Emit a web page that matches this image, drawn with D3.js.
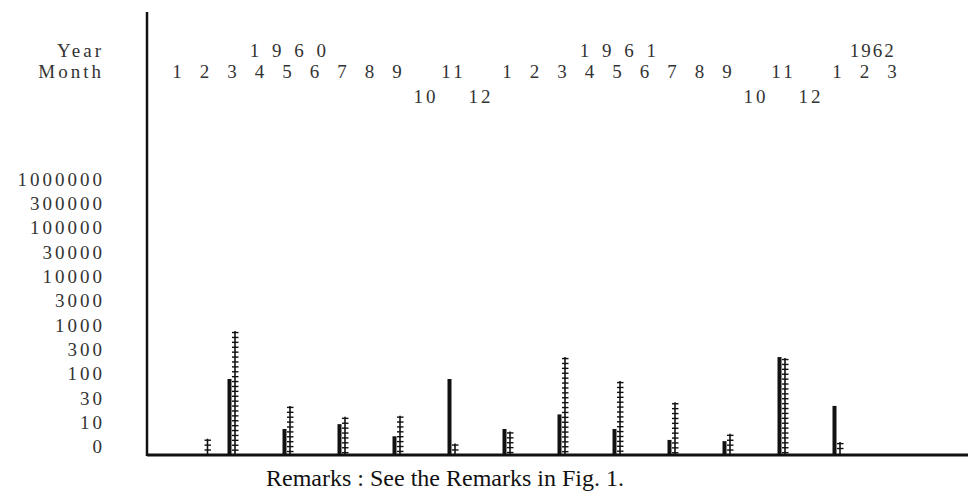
<!DOCTYPE html>
<html>
<head>
<meta charset="utf-8">
<script src="https://cdn.jsdelivr.net/npm/d3@7"></script>
<style>
  body { margin: 0; background: #fff; }
  svg { display: block; }
  .tw { font-family: "Liberation Serif", "DejaVu Serif", serif; font-size: 19px; fill: #333; letter-spacing: 3px; }
</style>
</head>
<body>
<svg id="chart" width="968" height="498"></svg>
<script>
// typed tick labels
const yTicks = [0, 10, 30, 100, 300, 1000, 3000, 10000, 30000, 100000, 300000, 1000000];
const monthLabels = ["1","2","3","4","5","6","7","8","9","10","11","12",
                     "1","2","3","4","5","6","7","8","9","10","11","12",
                     "1","2","3"];
const yearLabels = ["1 9 6 0", "1 9 6 1", "1962"];
const yearMonth = [4.1, 16.1, 25.3];

// bars: month (0 = Jan 1960), solid column and "+" column
const barMonths = [1, 2, 4, 6, 8, 10, 12, 14, 16, 18, 20, 22, 24];
const solidValues = [0, 83, 7, 9, 4, 83, 7, 16, 7, 2.5, 2, 232, 23];
const crossValues = [3, 811, 23, 14, 15, 1, 6, 232, 77, 26, 5, 224, 1.6];

const svg = d3.select("#chart");
const axisX = 147;
const baseY = 455;

const x = d3.scaleLinear().domain([0, 26]).range([177, 892]);
const y = d3.scaleLinear()
  .domain(yTicks)
  .range(yTicks.map((d, i) => 446 - i * 24.3));

// axes lines
svg.append("line")
  .attr("x1", axisX).attr("x2", axisX)
  .attr("y1", 12).attr("y2", baseY + 1)
  .attr("stroke", "#111").attr("stroke-width", 2.5);
svg.append("line")
  .attr("x1", axisX).attr("x2", 968)
  .attr("y1", baseY).attr("y2", baseY)
  .attr("stroke", "#111").attr("stroke-width", 3);

// y labels
const yAxis = d3.axisLeft(y).tickValues(yTicks).tickSize(0).tickPadding(0)
  .tickFormat(d => String(d));
const gy = svg.append("g").attr("transform", "translate(105,0)").call(yAxis);
gy.select(".domain").remove();
gy.attr("font-family", null).attr("font-size", null);
gy.selectAll("text").attr("class", "tw").attr("fill", null).attr("dy", "0.35em");

// header labels
svg.append("text").attr("class", "tw").attr("x", 104).attr("y", 50)
  .attr("text-anchor", "end").attr("dy", "0.35em").text("Year");
svg.append("text").attr("class", "tw").attr("x", 104).attr("y", 71)
  .attr("text-anchor", "end").attr("dy", "0.35em").text("Month");

svg.selectAll(".year").data(yearLabels).enter().append("text")
  .attr("class", "tw year")
  .attr("x", (d, i) => x(yearMonth[i]))
  .attr("y", 50).attr("dy", "0.35em")
  .attr("text-anchor", "middle")
  .style("letter-spacing", (d, i) => i < 2 ? "4px" : "2px")
  .text(d => d);

svg.selectAll(".month").data(monthLabels).enter().append("text")
  .attr("class", "tw month")
  .attr("x", (d, i) => x(i) + 1.5)
  .attr("y", d => (d === "10" || d === "12") ? 96 : 71)
  .attr("dy", "0.35em")
  .attr("text-anchor", "middle")
  .text(d => d);

// solid columns
svg.selectAll(".solid").data(barMonths).enter()
  .filter((d, i) => solidValues[i] > 0)
  .append("rect")
  .attr("class", "solid")
  .attr("x", d => x(d) - 4.5)
  .attr("width", 4)
  .attr("y", d => y(solidValues[barMonths.indexOf(d)]))
  .attr("height", d => baseY - y(solidValues[barMonths.indexOf(d)]))
  .attr("fill", "#111");

// "+" columns
const cross = svg.selectAll(".cross").data(barMonths).enter().append("g")
  .attr("class", "cross")
  .attr("transform", d => `translate(${x(d) + 3},0)`);

cross.each(function(d, i) {
  const g = d3.select(this);
  const top = y(crossValues[i]);
  g.append("line")
    .attr("x1", 0).attr("x2", 0)
    .attr("y1", top).attr("y2", baseY)
    .attr("stroke", "#111").attr("stroke-width", 1.6);
  const marks = d3.range(top + 1.5, baseY - 2, 4.9);
  g.selectAll("line.p").data(marks).enter().append("line")
    .attr("class", "p")
    .attr("x1", -3).attr("x2", 3.5)
    .attr("y1", m => m).attr("y2", m => m)
    .attr("stroke", "#111").attr("stroke-width", 1.4);
});

// caption
svg.append("text")
  .attr("x", 445).attr("y", 486)
  .attr("text-anchor", "middle")
  .style("font-family", "\"Liberation Serif\", \"DejaVu Serif\", serif")
  .style("font-size", "24px")
  .style("fill", "#111")
  .text("Remarks : See the Remarks in Fig. 1.");
</script>
</body>
</html>
